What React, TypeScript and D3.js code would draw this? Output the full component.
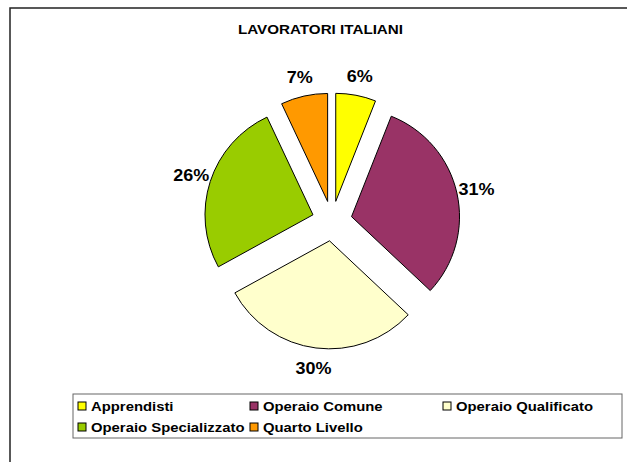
import React from 'react';
import * as d3 from 'd3';

const W = 627, H = 462;
const CX = 332, CY = 221;
const R = 108;
const EXPLODE = 20;
const LABEL_R = 148;

const categories = ['Apprendisti', 'Operaio Comune', 'Operaio Qualificato', 'Operaio Specializzato', 'Quarto Livello'];
const values = [6, 31, 30, 26, 7];
const colors = ['#FFFF00', '#993366', '#FFFFCC', '#99CC00', '#FF9900'];

// legend layout: 3 columns, 2 rows
const LEG_COLS = [78, 250, 443];
const LEG_ROWS = [406, 427];

export default function App() {
  const pie = d3.pie<number>().sort(null).value(d => d);
  const arcs = pie(values);
  const arcGen = d3.arc<d3.PieArcDatum<number>>().innerRadius(0).outerRadius(R);
  const total = d3.sum(values);
  const fmt = d3.format('.0%');

  return (
    <svg width={W} height={H} style={{ position: 'absolute', left: 0, top: 0, background: '#fff' }}
      fontFamily="'Liberation Sans', Arial, sans-serif">
      <rect x={10} y={8} width={W + 20} height={H + 20} fill="#fff" stroke="#222" strokeWidth={1.5} />

      <text transform={`translate(${W / 2 + 7},34) scale(1.17,1)`} textAnchor="middle"
        fontSize={13} fontWeight="bold" fill="#000">LAVORATORI ITALIANI</text>

      {arcs.map((a, i) => {
        const mid = (a.startAngle + a.endAngle) / 2;
        const dx = Math.sin(mid) * EXPLODE, dy = -Math.cos(mid) * EXPLODE;
        const lx = CX + Math.sin(mid) * LABEL_R, ly = CY - Math.cos(mid) * LABEL_R;
        return (
          <g key={categories[i]}>
            <path d={arcGen(a) || ''} transform={`translate(${CX + dx},${CY + dy})`}
              fill={colors[i]} stroke="#000" strokeWidth={1} />
            <text transform={`translate(${lx},${ly}) scale(1.06,1)`} textAnchor="middle" dy="0.36em"
              fontSize={17} fontWeight="bold" fill="#000">{fmt(values[i] / total)}</text>
          </g>
        );
      })}

      <rect x={73} y={394} width={549} height={44} fill="#fff" stroke="#666" strokeWidth={1} />
      {categories.map((c, i) => {
        const x = LEG_COLS[i % 3], y = LEG_ROWS[Math.floor(i / 3)];
        return (
          <g key={c}>
            <rect x={x} y={y - 4} width={8} height={8} fill={colors[i]} stroke="#000" strokeWidth={1} />
            <text transform={`translate(${x + 13},${y}) scale(1.1,1)`} dy="0.36em"
              fontSize={13.5} fontWeight="bold" fill="#000">{c}</text>
          </g>
        );
      })}
    </svg>
  );
}
